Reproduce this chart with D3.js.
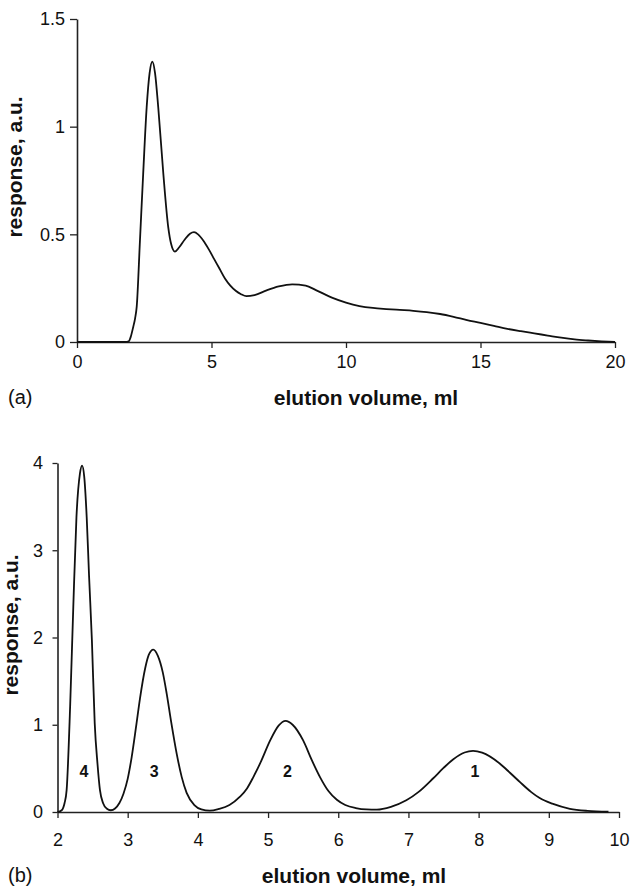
<!DOCTYPE html>
<html>
<head>
<meta charset="utf-8">
<script src="https://cdn.jsdelivr.net/npm/d3@7"></script>
<style>
  html, body { margin: 0; padding: 0; background: #fff; }
  svg { display: block; }
  text { font-family: "Liberation Sans", Arial, Helvetica, sans-serif; fill: #111; }
</style>
</head>
<body>
<svg id="chart" width="632" height="886"></svg>
<script>
// ---------- Data: panel (a) ----------
const aVolume = [0, 1.8, 1.92, 2.0, 2.09, 2.16, 2.22, 2.34, 2.46, 2.59, 2.7, 2.8, 2.9, 3.02, 3.21, 3.39, 3.5, 3.64, 3.8, 4.0, 4.2, 4.35, 4.5, 4.7, 4.9, 5.1, 5.3, 5.5, 5.7, 5.9, 6.1, 6.3, 6.6, 7.05, 7.5, 8.0, 8.5, 8.9, 9.5, 10.0, 10.5, 11.0, 11.5, 12.0, 12.5, 13.0, 13.5, 14.0, 14.5, 15.0, 15.5, 16.0, 16.5, 17.0, 17.5, 18.0, 18.5, 19.0, 19.5, 20.0];
const aResponse = [0, 0, 0.003, 0.025, 0.07, 0.11, 0.164, 0.47, 0.78, 1.09, 1.25, 1.302, 1.25, 1.09, 0.78, 0.535, 0.455, 0.42, 0.44, 0.475, 0.503, 0.51, 0.5, 0.47, 0.43, 0.385, 0.34, 0.295, 0.262, 0.238, 0.222, 0.213, 0.218, 0.24, 0.258, 0.268, 0.262, 0.24, 0.205, 0.183, 0.167, 0.158, 0.153, 0.149, 0.145, 0.139, 0.13, 0.117, 0.102, 0.089, 0.075, 0.061, 0.05, 0.04, 0.03, 0.02, 0.012, 0.007, 0.003, 0];
const aXTicks = [0, 5, 10, 15, 20];
const aXTickLabels = ["0", "5", "10", "15", "20"];
const aYTicks = [0, 0.5, 1, 1.5];
const aYTickLabels = ["0", "0.5", "1", "1.5"];

// ---------- Data: panel (b) ----------
const bVolume = [2.0, 2.06, 2.1, 2.13, 2.18, 2.225, 2.27, 2.32, 2.35, 2.38, 2.416, 2.45, 2.49, 2.53, 2.57, 2.605, 2.65, 2.7, 2.76, 2.82, 2.88, 2.94, 3.0, 3.057, 3.12, 3.175, 3.25, 3.3, 3.365, 3.43, 3.5, 3.555, 3.62, 3.7, 3.77, 3.84, 3.95, 4.05, 4.17, 4.3, 4.45, 4.6, 4.7, 4.79, 4.9, 5.03, 5.15, 5.25, 5.35, 5.5, 5.62, 5.74, 5.86, 5.98, 6.1, 6.25, 6.4, 6.55, 6.75, 6.97, 7.15, 7.35, 7.5, 7.64, 7.8, 7.92, 8.05, 8.3, 8.45, 8.59, 8.75, 8.87, 9.05, 9.3, 9.55, 9.85];
const bResponse = [0, 0.02, 0.1, 0.25, 1.21, 2.35, 3.38, 3.88, 3.97, 3.85, 3.38, 2.7, 1.97, 1.02, 0.55, 0.25, 0.1, 0.04, 0.02, 0.04, 0.1, 0.21, 0.38, 0.63, 0.98, 1.3, 1.65, 1.8, 1.86, 1.79, 1.6, 1.36, 1.03, 0.66, 0.4, 0.22, 0.08, 0.03, 0.015, 0.035, 0.08, 0.175, 0.27, 0.4, 0.58, 0.82, 0.99, 1.045, 1.0, 0.82, 0.6, 0.4, 0.24, 0.14, 0.08, 0.045, 0.03, 0.028, 0.06, 0.135, 0.234, 0.384, 0.505, 0.605, 0.682, 0.7, 0.68, 0.556, 0.447, 0.342, 0.228, 0.16, 0.095, 0.037, 0.013, 0.003];
const bXTicks = [2, 3, 4, 5, 6, 7, 8, 9, 10];
const bXTickLabels = ["2", "3", "4", "5", "6", "7", "8", "9", "10"];
const bYTicks = [0, 1, 2, 3, 4];
const bYTickLabels = ["0", "1", "2", "3", "4"];
const peakLabels = ["4", "3", "2", "1"];
const peakLabelX = [2.378, 3.377, 5.276, 7.947];
const peakLabelY = [0.4, 0.4, 0.4, 0.4];

const xTitle = "elution volume, ml";
const yTitle = "response, a.u.";

const svg = d3.select("#chart");

function drawPanel(cfg) {
  const x = d3.scaleLinear().domain(cfg.xDomain).range([cfg.left, cfg.right]);
  const y = d3.scaleLinear().domain(cfg.yDomain).range([cfg.bottom, cfg.top]);
  const g = svg.append("g");

  const xAxis = d3.axisBottom(x).tickValues(cfg.xTicks)
    .tickFormat((d, i) => cfg.xTickLabels[i])
    .tickSize(cfg.xTickSize).tickSizeOuter(0).tickPadding(cfg.xTickPad);
  const gx = g.append("g").attr("transform", `translate(0,${cfg.bottom})`).call(xAxis);
  const yAxis = d3.axisLeft(y).tickValues(cfg.yTicks)
    .tickFormat((d, i) => cfg.yTickLabels[i])
    .tickSize(cfg.yTickSize).tickSizeOuter(0).tickPadding(cfg.yTickPad);
  const gy = g.append("g").attr("transform", `translate(${cfg.left},0)`).call(yAxis);

  [gx, gy].forEach(a => {
    a.select(".domain").attr("stroke", "#222").attr("stroke-width", 1.6);
    a.selectAll(".tick line").attr("stroke", "#222").attr("stroke-width", 1.3);
    a.selectAll(".tick text").attr("font-size", 18)
      .attr("font-family", '"Liberation Sans", Arial, sans-serif').attr("fill", "#111");
  });

  const line = d3.line()
    .x((d, i) => x(cfg.xs[i]))
    .y((d, i) => y(cfg.ys[i]))
    .curve(d3.curveMonotoneX);
  g.append("path").datum(cfg.xs).attr("d", line)
    .attr("fill", "none").attr("stroke", "#111").attr("stroke-width", 1.8)
    .attr("stroke-linejoin", "round");

  g.append("text")
    .attr("transform", `translate(${cfg.yTitleX},${cfg.yTitleY}) rotate(-90)`)
    .attr("text-anchor", "middle").attr("font-size", 21).attr("font-weight", "bold")
    .text(yTitle);
  g.append("text").attr("x", cfg.xTitleX).attr("y", cfg.xTitleY)
    .attr("text-anchor", "middle").attr("font-size", 21).attr("font-weight", "bold")
    .text(xTitle);
  g.append("text").attr("x", 8).attr("y", cfg.xTitleY - 1)
    .attr("font-size", 20).text(cfg.panel);
  return { x, y, g };
}

drawPanel({
  panel: "(a)",
  xDomain: [0, 20], yDomain: [0, 1.5],
  left: 77, right: 615, top: 19, bottom: 342,
  xTicks: aXTicks, xTickLabels: aXTickLabels,
  yTicks: aYTicks, yTickLabels: aYTickLabels,
  xTickSize: 6, xTickPad: 7.5, yTickSize: 7, yTickPad: 5,
  xs: aVolume, ys: aResponse,
  yTitleX: 22, yTitleY: 167, xTitleX: 366, xTitleY: 405
});

const pb = drawPanel({
  panel: "(b)",
  xDomain: [2, 10], yDomain: [0, 4],
  left: 57.5, right: 619, top: 463, bottom: 812,
  xTicks: bXTicks, xTickLabels: bXTickLabels,
  yTicks: bYTicks, yTickLabels: bYTickLabels,
  xTickSize: 6, xTickPad: 15.5, yTickSize: 5, yTickPad: 9.5,
  xs: bVolume, ys: bResponse,
  yTitleX: 18, yTitleY: 625, xTitleX: 354, xTitleY: 883
});

pb.g.selectAll(".peak-label").data(peakLabels).enter().append("text")
  .attr("class", "peak-label")
  .attr("x", (d, i) => pb.x(peakLabelX[i]))
  .attr("y", (d, i) => pb.y(peakLabelY[i]))
  .attr("text-anchor", "middle").attr("font-size", 16).attr("font-weight", "bold")
  .text(d => d);
</script>
</body>
</html>
